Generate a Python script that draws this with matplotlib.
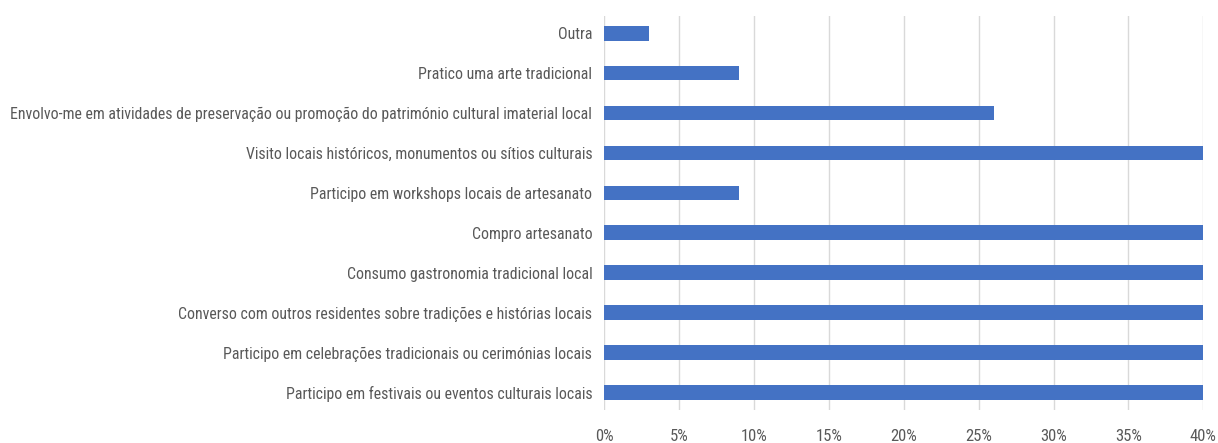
import matplotlib
matplotlib.use("Agg")
import matplotlib.pyplot as plt
from matplotlib import font_manager
from matplotlib.ticker import FuncFormatter, MultipleLocator

# Activities (bottom to top) and share of respondents (%)
categories = [
    "Participo em festivais ou eventos culturais locais",
    "Participo em celebrações tradicionais ou cerimónias locais",
    "Converso com outros residentes sobre tradições e histórias locais",
    "Consumo gastronomia tradicional local",
    "Compro artesanato",
    "Participo em workshops locais de artesanato",
    "Visito locais históricos, monumentos ou sítios culturais",
    "Envolvo-me em atividades de preservação ou promoção do património cultural imaterial local",
    "Pratico uma arte tradicional",
    "Outra",
]
values = [40, 40, 40, 40, 40, 9, 40, 26, 9, 3]

available = {f.name for f in font_manager.fontManager.ttflist}
family = "Roboto"
for cand in ["Roboto Condensed", "Liberation Sans Narrow", "Roboto", "Liberation Sans"]:
    if cand in available:
        family = cand
        break
plt.rcParams["font.family"] = [family, "DejaVu Sans"]

fig = plt.figure(figsize=(12.18, 4.43), dpi=100)
ax = fig.add_axes([0.496, 0.075, 0.492, 0.888])

ax.barh(range(len(categories)), values, height=0.37, color="#4472C4", zorder=3)

ax.set_xlim(0, 40)
ax.set_ylim(-0.43, 9.42)
ax.set_yticks(range(len(categories)))
ax.set_yticklabels(categories)
ax.xaxis.set_major_locator(MultipleLocator(5))
ax.xaxis.set_major_formatter(FuncFormatter(lambda v, _: f"{v:.0f}%"))

ax.grid(axis="x", color="#d9d9d9", linewidth=1, zorder=0)
for s in ax.spines.values():
    s.set_visible(False)
ax.tick_params(axis="both", length=0, colors="#595959", labelsize=11.5)
ax.tick_params(axis="y", pad=8.5)
ax.tick_params(axis="x", pad=14, labelsize=12)

# keep the longest category label within the left margin
fig.canvas.draw()
renderer = fig.canvas.get_renderer()
widest = max(t.get_window_extent(renderer).width for t in ax.get_yticklabels())
size = 11.5 * min(1.0, 582.0 / widest)
for t in ax.get_yticklabels():
    t.set_fontsize(size)

fig.savefig("out.png", dpi=100, facecolor="white")
